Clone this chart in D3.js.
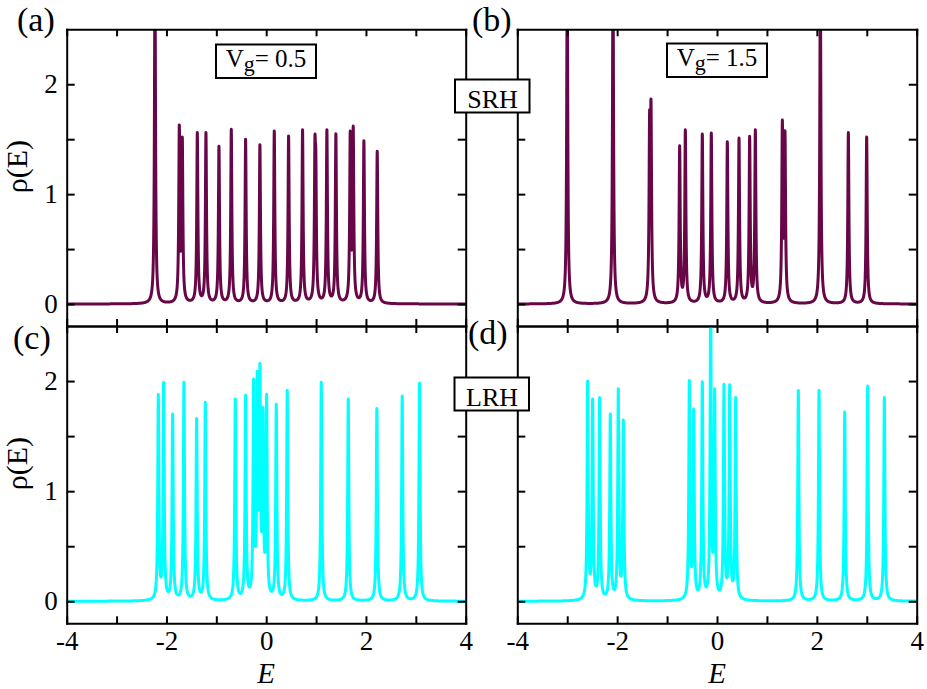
<!DOCTYPE html>
<html>
<head>
<meta charset="utf-8">
<script src="https://cdn.jsdelivr.net/npm/d3@7"></script>
<style>
  body { margin: 0; background: #fff; }
  svg { display: block; }
</style>
</head>
<body>
<script>
// Peak positions (E) and peak heights rho(E)
const peaksA_E   = [-2.23, -1.742, -1.682, -1.381, -1.208, -0.947, -0.70, -0.413, -0.126, 0.162, 0.449, 0.729, 0.977, 0.995, 1.217, 1.397, 1.685, 1.745, 1.959, 2.226];
const peaksA_rho = [3.0, 1.63, 1.52, 1.56, 1.56, 1.435, 1.59, 1.50, 1.45, 1.574, 1.53, 1.586, 1.52, 1.40, 1.586, 1.55, 1.574, 1.62, 1.486, 1.39];

const peaksB_E   = [-3.0, -2.083, -1.35, -1.322, -0.748, -0.634, -0.294, -0.114, 0.207, 0.441, 0.654, 0.768, 1.309, 1.362, 2.07, 2.631, 2.998];
const peaksB_rho = [3.0, 3.0, 1.76, 1.86, 1.44, 1.586, 1.547, 1.556, 1.477, 1.51, 1.526, 1.586, 1.674, 1.577, 3.0, 1.56, 1.52];

const peaksC_E   = [-2.163, -2.056, -1.876, -1.649, -1.395, -1.221, -0.620, -0.413, -0.252, -0.179, -0.126, -0.065, 0.008, 0.202, 0.422, 1.104, 1.645, 2.219, 2.727, 3.074];
const peaksC_rho = [1.879, 1.988, 1.70, 1.99, 1.66, 1.807, 1.837, 1.87, 2.018, 2.09, 2.16, 1.76, 1.88, 1.79, 1.915, 1.99, 1.837, 1.75, 1.864, 1.98];

const peaksD_E   = [-2.591, -2.491, -2.351, -2.137, -1.977, -1.876, -0.554, -0.467, -0.294, -0.127, -0.047, 0.140, 0.254, 0.374, 1.629, 2.043, 2.558, 3.018, 3.352];
const peaksD_rho = [2.0, 1.837, 1.85, 1.70, 1.93, 1.646, 2.006, 1.746, 1.994, 2.7, 1.93, 1.97, 1.967, 1.85, 1.915, 1.915, 1.72, 1.955, 1.85];

const energyTicks  = [-4, -3, -2, -1, 0, 1, 2, 3, 4];
const energyLabels = [-4, -2, 0, 2, 4];
const rhoTicks     = [0, 0.5, 1, 1.5, 2];
const rhoLabels    = [0, 1, 2];

const panelTags  = ["(a)", "(b)", "(c)", "(d)"];
const gateLabels = ["0.5", "1.5"];
const rangeLabels = ["SRH", "LRH"];

const W = 927, H = 689;
const FONT = "'Liberation Serif', 'Times New Roman', serif";
const MAROON = "#670748", CYAN = "#00ffff";
const GAMMA = 0.013;   // broadening of each level

const colX = [[66.7, 465.7], [517.3, 916.7]];
const rowY = [[29.3, 326], [326, 623.3]];

const svg = d3.select("body").append("svg")
    .attr("width", W)
    .attr("height", H);

function lorentz(d) {
    return GAMMA * GAMMA / (d * d + GAMMA * GAMMA);
}

// amplitudes so that the summed line passes through the read heights
function amplitudes(E, h) {
    let A = h.slice();
    for (let it = 0; it < 40; it++) {
        A = h.map((hi, i) => hi - d3.sum(E, (ej, j) => j === i ? 0 : A[j] * lorentz(E[i] - ej)));
    }
    return A;
}

function dosCurve(E, h) {
    const A = amplitudes(E, h);
    const xs = d3.range(-4, 4.0005, 0.001).concat(E).sort((a, b) => a - b);
    return xs.map(e => [e, d3.sum(E, (ei, i) => A[i] * lorentz(e - ei))]);
}

const panels = [
    { col: 0, row: 0, E: peaksA_E, rho: peaksA_rho, color: MAROON },
    { col: 1, row: 0, E: peaksB_E, rho: peaksB_rho, color: MAROON },
    { col: 0, row: 1, E: peaksC_E, rho: peaksC_rho, color: CYAN },
    { col: 1, row: 1, E: peaksD_E, rho: peaksD_rho, color: CYAN }
];

function styleAxis(g) {
    g.selectAll(".domain").attr("stroke", "#000").attr("stroke-width", 2).attr("stroke-linecap", "square");
    g.selectAll(".tick line").attr("stroke", "#000").attr("stroke-width", 2);
    g.selectAll("text").attr("font-family", FONT).attr("font-size", 27).attr("fill", "#000");
}

panels.forEach((p, k) => {
    const [x0, x1] = colX[p.col];
    const [y0, y1] = rowY[p.row];
    const x = d3.scaleLinear().domain([-4, 4]).range([x0, x1]);
    const y = d3.scaleLinear().domain([-0.2, 2.5]).range([y1, y0]);
    const g = svg.append("g");

    const clipId = "clip" + k;
    svg.append("clipPath").attr("id", clipId)
        .append("rect")
        .attr("x", x0).attr("y", y0)
        .attr("width", x1 - x0).attr("height", y1 - y0);

    g.append("path")
        .datum(dosCurve(p.E, p.rho))
        .attr("clip-path", `url(#${clipId})`)
        .attr("fill", "none")
        .attr("stroke", p.color)
        .attr("stroke-width", 3)
        .attr("stroke-linejoin", "round")
        .attr("d", d3.line().x(d => x(d[0])).y(d => y(d[1])));

    // frame + inward ticks on all four sides
    g.append("g")
        .attr("transform", `translate(0,${y1})`)
        .call(d3.axisBottom(x).tickValues(energyTicks).tickSize(-7).tickSizeOuter(0).tickPadding(8)
            .tickFormat(d => p.row === 1 && energyLabels.includes(d) ? String(d) : ""))
        .call(styleAxis);
    g.append("g")
        .attr("transform", `translate(0,${y0})`)
        .call(d3.axisTop(x).tickValues(energyTicks).tickSize(-7).tickSizeOuter(0).tickFormat(""))
        .call(styleAxis);
    g.append("g")
        .attr("transform", `translate(${x0},0)`)
        .call(d3.axisLeft(y).tickValues(rhoTicks).tickSize(-8).tickSizeOuter(0).tickPadding(9)
            .tickFormat(d => p.col === 0 && rhoLabels.includes(d) ? String(d) : ""))
        .call(styleAxis);
    g.append("g")
        .attr("transform", `translate(${x1},0)`)
        .call(d3.axisRight(y).tickValues(rhoTicks).tickSize(-8).tickSizeOuter(0).tickFormat(""))
        .call(styleAxis);

    // axis titles
    if (p.col === 0) {
        g.append("text")
            .attr("transform", `translate(27,${(y0 + y1) / 2 - 11}) rotate(-90)`)
            .attr("text-anchor", "middle")
            .attr("font-family", FONT)
            .attr("font-size", 30)
            .text("ρ(E)");
    }
    if (p.row === 1) {
        g.append("text")
            .attr("x", (x0 + x1) / 2)
            .attr("y", 682.5)
            .attr("text-anchor", "middle")
            .attr("font-family", FONT)
            .attr("font-style", "italic")
            .attr("font-size", 29)
            .text("E");
    }
});

// panel tags
const tagPos = [[17, 31], [472, 31], [13, 349], [468, 344]];
panelTags.forEach((t, i) => {
    svg.append("text")
        .attr("x", tagPos[i][0])
        .attr("y", tagPos[i][1])
        .attr("font-family", FONT)
        .attr("font-size", 34)
        .text(t);
});

// gate voltage boxes
const gateBox = [[216, 44.5], [667, 43.5]];
gateLabels.forEach((v, i) => {
    const [bx, by] = gateBox[i];
    svg.append("rect")
        .attr("x", bx).attr("y", by)
        .attr("width", 100).attr("height", 33.5)
        .attr("fill", "#fff").attr("stroke", "#000").attr("stroke-width", 2);
    const t = svg.append("text")
        .attr("x", bx + 50)
        .attr("y", by + 22.5)
        .attr("text-anchor", "middle")
        .attr("font-family", FONT)
        .attr("font-size", 25);
    t.append("tspan").text("V");
    t.append("tspan").attr("dy", 4).attr("font-size", 22).text("g");
    t.append("tspan").attr("dy", -4).text("= " + v);
});

// SRH / LRH boxes sit over the gap between columns
const rangeBox = [[455, 79.5, 108], [454.5, 377.5, 405.5]];
rangeLabels.forEach((s, i) => {
    const [bx, by, base] = rangeBox[i];
    svg.append("rect")
        .attr("x", bx).attr("y", by)
        .attr("width", 74.5).attr("height", 33)
        .attr("fill", "#fff").attr("stroke", "#000").attr("stroke-width", 2);
    svg.append("text")
        .attr("x", bx + 37.5)
        .attr("y", base)
        .attr("text-anchor", "middle")
        .attr("font-family", FONT)
        .attr("font-size", 26)
        .text(s);
});
</script>
</body>
</html>
